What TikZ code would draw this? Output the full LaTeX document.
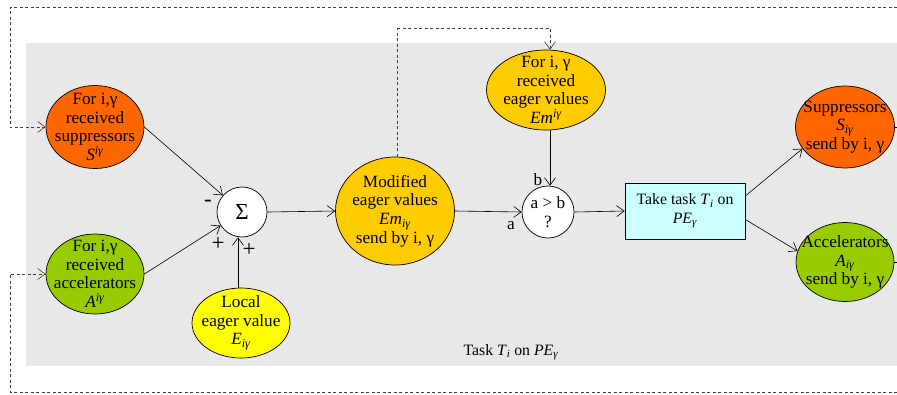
\documentclass[tikz,border=0pt]{standalone}
\usepackage{fontspec}
\setmainfont{Liberation Serif}
\usetikzlibrary{arrows.meta,shapes.geometric}
\definecolor{bggray}{HTML}{E8E8E8}
\definecolor{suporange}{HTML}{FF6600}
\definecolor{accgreen}{HTML}{99CC00}
\definecolor{eagergold}{HTML}{FFCC00}
\definecolor{localyellow}{HTML}{FFFF00}
\definecolor{taskcyan}{HTML}{CCFFFF}
\definecolor{dashgray}{HTML}{404040}
\newcommand\sbi[2]{\textit{#1}\textsubscript{\textit{#2}}}
\newcommand\spi[2]{\textit{#1}\textsuperscript{\textit{#2}}}
\newcommand\mainsize{\fontsize{15.8}{18.5}\selectfont}
\newcommand\ellsize{\fontsize{17.2}{18.6}\selectfont}
\begin{document}
\begin{tikzpicture}[x=1pt,y=-1pt,
  font=\mainsize,
  ell/.style={draw, ellipse, inner sep=0pt, line width=0.7pt},
  txt/.style={align=center, inner sep=0pt, font=\ellsize},
  conn/.style={draw, line width=0.6pt, -{Straight Barb[length=7.5pt,width=11pt]}},
  dconn/.style={draw=dashgray, line width=0.6pt, dash pattern=on 3pt off 2.5pt, -{Straight Barb[length=7.5pt,width=11pt]}},
  dline/.style={draw=dashgray, line width=0.6pt, dash pattern=on 3pt off 2.5pt},
  sline/.style={draw, line width=0.6pt},
  sign/.style={inner sep=0pt, font=\fontsize{23}{23}\selectfont}]
\useasboundingbox (0,0) rectangle (897,394);
\fill[bggray] (26,43) rectangle (897,366);

% nodes
\node[ell, fill=suporange, minimum width=98pt, minimum height=83pt,
  label={[txt]center:For i,γ\\received\\suppressors\\\spi{S}{iγ}}] (supin) at (95,127) {};
\node[ell, fill=accgreen, minimum width=98pt, minimum height=80pt,
  label={[txt]center:For i,γ\\received\\accelerators\\\spi{A}{iγ}}] (accin) at (95,274) {};
\node[circle, draw, line width=0.7pt, fill=white, minimum size=50pt, inner sep=0pt,
  font=\fontsize{23}{23}\selectfont] (sigma) at (242,212) {Σ};
\node[ell, fill=localyellow, minimum width=98pt, minimum height=70pt,
  label={[txt]center:Local\\eager value\\\sbi{E}{iγ}}] (local) at (241,323) {};
\node[ell, fill=eagergold, minimum width=119pt, minimum height=108pt,
  label={[txt]center:Modified\\eager values\\\sbi{Em}{iγ}\\send by i, γ}] (mod) at (395,211) {};
\node[ell, fill=eagergold, minimum width=119pt, minimum height=80pt,
  label={[txt]center:For i, γ\\received\\eager values\\\spi{Em}{iγ}}] (recv) at (546,90) {};
\node[circle, draw, line width=0.7pt, fill=white, minimum size=52pt, inner sep=0pt,
  label={[txt]center:a > b\\?}] (cmp) at (548,212) {};
\node[draw, line width=0.7pt, fill=taskcyan, minimum width=120pt, minimum height=56pt,
  inner sep=0pt, align=center] (task) at (685,211) {Take task \sbi{T}{i} on\\\sbi{PE}{γ}};
\node[ell, fill=suporange, minimum width=99pt, minimum height=82pt,
  label={[txt]center:Suppressors\\\sbi{S}{iγ}\\send by i, γ}] (supout) at (845,127) {};
\node[ell, fill=accgreen, minimum width=98pt, minimum height=79pt,
  label={[txt]center:Accelerators\\\sbi{A}{iγ}\\send by i, γ}] (accout) at (845,262) {};

% text labels
\node[sign] (minus) at (208,203) {-};
\node[sign] (plusa) at (218,244) {+};
\node[sign] (plusb) at (249,250) {+};
\node[inner sep=0pt, font=\ellsize] (la) at (511,226) {a};
\node[inner sep=0pt, font=\ellsize] (lb) at (538,180) {b};
\node[inner sep=0pt] (title) at (511,352) {Task \sbi{T}{i} on \sbi{PE}{γ}};

% coordinates
\coordinate (topR) at (897,7);
\coordinate (topL) at (10,7);
\coordinate (botR) at (897,392);
\coordinate (botL) at (10,392);
\coordinate (midtop) at (397,28);
\coordinate (supR) at (897,127);
\coordinate (accR) at (897,262);

% connectors
\path[conn] (supin.east) -- (sigma);
\path[conn] (accin.east) -- (sigma);
\path[conn] (local.north -| 238,0) -- (sigma.south -| 238,0);
\path[conn] (sigma.east) -- (mod.west);
\path[conn] (mod.east) -- (cmp.west);
\path[conn] (recv.south -| 550,0) -- (cmp.north -| 550,0);
\path[conn] (cmp.east) -- (task.west);
\path[conn] (task.14) -- (supout.207);
\path[conn] (task.-8) -- (accout.167);
\path[sline] (supout.east) -- (supR);
\path[sline] (accout.east) -- (accR);

\path[dconn] (topR) -- (topL) |- (supin.west);
\path[dconn] (botR) -- (botL) |- (accin.west);
\path[dline] (mod.north -| midtop) -- (midtop);
\path[dconn] (midtop) -| (recv.north -| 550,0);
\end{tikzpicture}
\end{document}
